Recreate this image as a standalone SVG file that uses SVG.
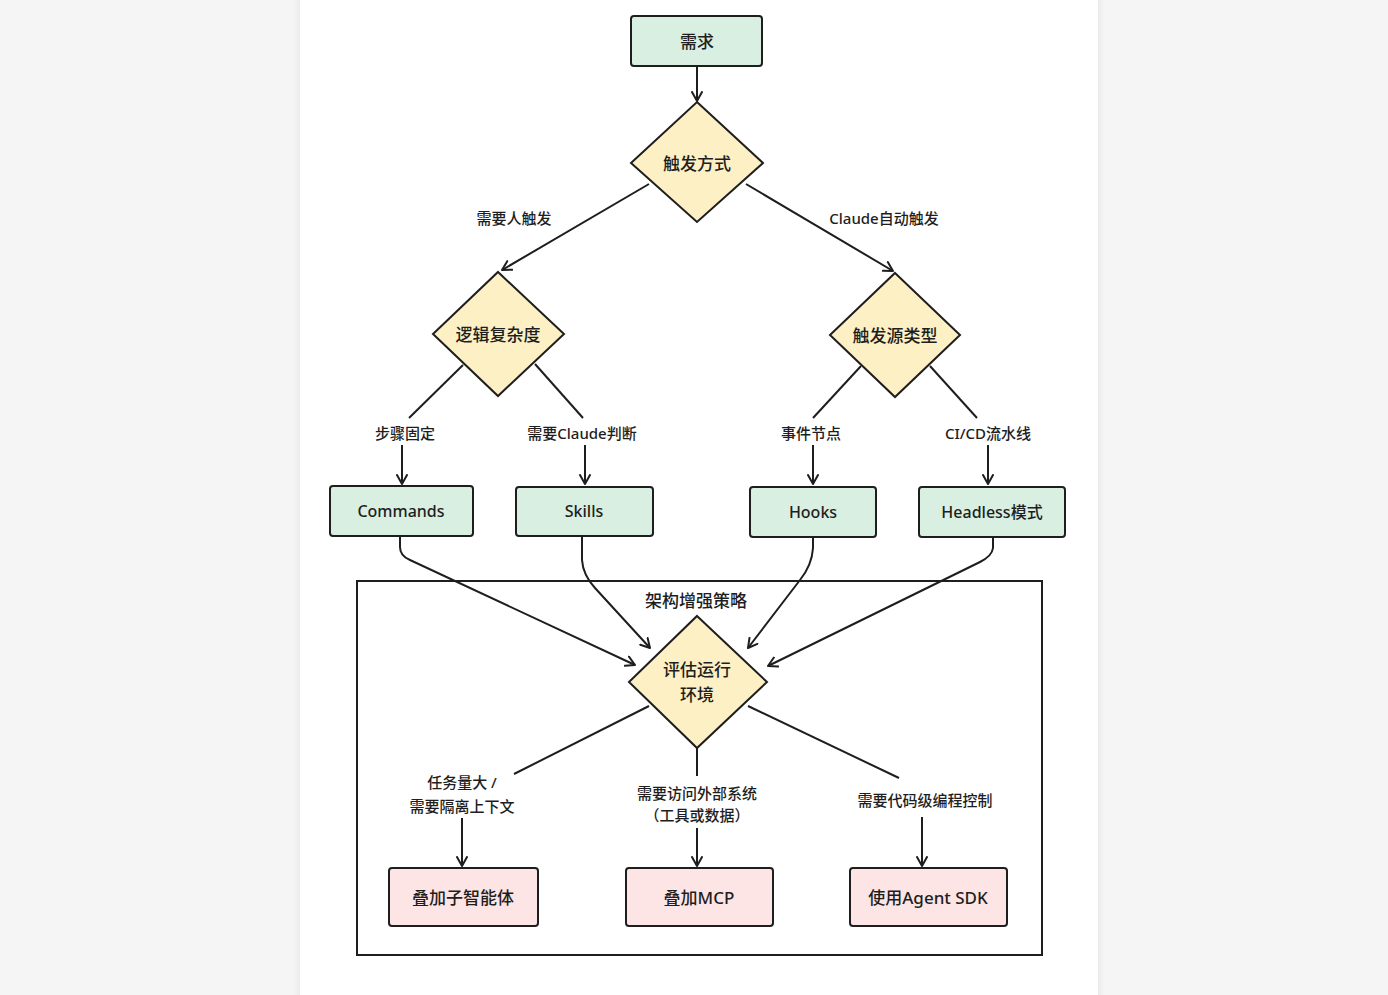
<svg xmlns="http://www.w3.org/2000/svg" width="1388" height="995" viewBox="0 0 1388 995">
<defs>
<marker id="arr" markerUnits="userSpaceOnUse" markerWidth="14" markerHeight="14" refX="10" refY="6" orient="auto">
<path d="M1,1 L10,6 L1,11" fill="none" stroke="#1e1e1e" stroke-width="2" stroke-linecap="round" stroke-linejoin="round"/>
</marker>
<filter id="sh" x="-5%" y="-5%" width="110%" height="110%"><feGaussianBlur stdDeviation="3"/></filter>
</defs>
<style>
.g{fill:#d9efe2;stroke:#1e1e1e;stroke-width:2}
.y{fill:#fcf0c4;stroke:#1e1e1e;stroke-width:2}
.p{fill:#fde5e5;stroke:#1e1e1e;stroke-width:2}
.c{fill:none;stroke:#1e1e1e;stroke-width:2}
.t{font-family:"Noto Sans","Noto Sans CJK SC",sans-serif;font-size:17px;font-weight:500;fill:#1e1e1e;text-anchor:middle;dominant-baseline:central}
.e{font-size:16px}
.l{font-family:"Noto Sans","Noto Sans CJK SC",sans-serif;font-size:15px;font-weight:500;fill:#1e1e1e;text-anchor:middle;dominant-baseline:central}
.h{font-size:17px}
</style>
<rect width="1388" height="995" fill="#f5f5f5"/>
<rect x="298" y="-10" width="802" height="1015" fill="#000" opacity="0.05" filter="url(#sh)"/>
<rect x="300" y="0" width="798" height="995" fill="#ffffff"/>

<g id="container">
<rect x="357" y="581" width="685" height="374" fill="none" stroke="#1e1e1e" stroke-width="2"/>
<text class="l h" x="696" y="600">架构增强策略</text>
</g>

<g id="connectors">
<line class="c" x1="697" y1="66" x2="697" y2="101" marker-end="url(#arr)"/>
<line class="c" x1="649" y1="184" x2="502" y2="270" marker-end="url(#arr)"/>
<line class="c" x1="746" y1="184" x2="893" y2="271" marker-end="url(#arr)"/>
<text class="l" x="514" y="218">需要人触发</text>
<text class="l" x="884" y="218">Claude自动触发</text>

<line class="c" x1="463" y1="365" x2="409" y2="418"/>
<text class="l" x="405" y="433">步骤固定</text>
<line class="c" x1="402" y1="445" x2="402" y2="484" marker-end="url(#arr)"/>
<line class="c" x1="535" y1="364" x2="583" y2="418"/>
<text class="l" x="582" y="433">需要Claude判断</text>
<line class="c" x1="585" y1="445" x2="585" y2="484" marker-end="url(#arr)"/>

<line class="c" x1="861" y1="366" x2="813" y2="418"/>
<text class="l" x="811" y="433">事件节点</text>
<line class="c" x1="813" y1="445" x2="813" y2="484" marker-end="url(#arr)"/>
<line class="c" x1="930" y1="366" x2="977" y2="418"/>
<text class="l" x="988" y="433">CI/CD流水线</text>
<line class="c" x1="988" y1="445" x2="988" y2="484" marker-end="url(#arr)"/>

<path class="c" d="M400,537 L400,547 Q400,556 410,560 L635,665" marker-end="url(#arr)"/>
<path class="c" d="M582,537 L582,560 Q583,575 595,588 L650,648" marker-end="url(#arr)"/>
<path class="c" d="M813,537 L813,548 Q812,565 800,580 L748,648" marker-end="url(#arr)"/>
<path class="c" d="M993,537 L993,548 Q992,556 980,562 L768,666" marker-end="url(#arr)"/>

<line class="c" x1="649" y1="706" x2="514" y2="774"/>
<text class="l" x="462" y="782">任务量大 /</text>
<text class="l" x="462" y="806">需要隔离上下文</text>
<line class="c" x1="462" y1="818" x2="462" y2="866" marker-end="url(#arr)"/>

<line class="c" x1="697" y1="748" x2="697" y2="776"/>
<text class="l" x="697" y="793">需要访问外部系统</text>
<text class="l" x="697" y="815">（工具或数据）</text>
<line class="c" x1="697" y1="828" x2="697" y2="866" marker-end="url(#arr)"/>

<line class="c" x1="748" y1="706" x2="899" y2="778"/>
<text class="l" x="925" y="800">需要代码级编程控制</text>
<line class="c" x1="922" y1="817" x2="922" y2="866" marker-end="url(#arr)"/>
</g>

<g id="n-req"><rect class="g" x="631" y="16" width="131" height="50" rx="3"/><text class="t" x="697" y="41">需求</text></g>
<g id="n-trigger"><polygon class="y" points="697,102 763,163 697,222 631,163"/><text class="t" x="697" y="163">触发方式</text></g>
<g id="n-logic"><polygon class="y" points="498,272 564,334 498,396 433,334"/><text class="t" x="498" y="334">逻辑复杂度</text></g>
<g id="n-source"><polygon class="y" points="895,273 960,335 895,397 830,335"/><text class="t" x="895" y="335">触发源类型</text></g>
<g id="n-commands"><rect class="g" x="330" y="486" width="143" height="50" rx="3"/><text class="t e" x="401" y="511">Commands</text></g>
<g id="n-skills"><rect class="g" x="516" y="487" width="137" height="49" rx="3"/><text class="t e" x="584" y="511">Skills</text></g>
<g id="n-hooks"><rect class="g" x="750" y="487" width="126" height="50" rx="3"/><text class="t e" x="813" y="512">Hooks</text></g>
<g id="n-headless"><rect class="g" x="919" y="487" width="146" height="50" rx="3"/><text class="t e" x="992" y="512">Headless模式</text></g>
<g id="n-env"><polygon class="y" points="697,616 767,682 697,748 629,682"/><text class="t" x="697" y="669">评估运行</text><text class="t" x="697" y="694">环境</text></g>
<g id="n-sub"><rect class="p" x="389" y="868" width="149" height="58" rx="3"/><text class="t" x="463" y="897">叠加子智能体</text></g>
<g id="n-mcp"><rect class="p" x="626" y="868" width="147" height="58" rx="3"/><text class="t" x="699" y="897">叠加MCP</text></g>
<g id="n-sdk"><rect class="p" x="850" y="868" width="157" height="58" rx="3"/><text class="t" x="928" y="897">使用Agent SDK</text></g>
</svg>
